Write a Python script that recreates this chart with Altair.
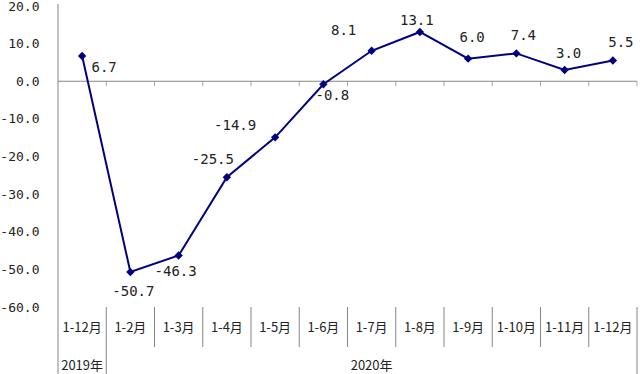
import altair as alt
import pandas as pd

categories = ["1-12月", "1-2月", "1-3月", "1-4月", "1-5月", "1-6月",
              "1-7月", "1-8月", "1-9月", "1-10月", "1-11月", "1-12月"]
values = [6.7, -50.7, -46.3, -25.5, -14.9, -0.8, 8.1, 13.1, 6.0, 7.4, 3.0, 5.5]
years = ["2019年", "2020年"]
year_first_index = [0, 1]
year_last_index = [0, 11]
y_ticks = [-60, -50, -40, -30, -20, -10, 0, 10, 20]

# label placement relative to each point (pixels)
LABEL_OFFSETS = [(22, 12), (3, 20), (-3, 17), (-14, -17), (-40, -11), (9, 12),
                 (-28, -20), (-3, -11), (4, -21), (7, -17), (4, -16), (8, -18)]

W, H = 579, 301
TOP = 6
NAVY = "#000080"
GRID = "#868686"
TXT = "#222222"
NUMFONT = "DejaVu Sans Mono"
CJK = "Noto Sans CJK SC"

n = len(categories)
df = pd.DataFrame({
    "idx": list(range(n)),
    "pos": [i + 0.5 for i in range(n)],
    "value": values,
    "cat": categories,
    "label": [f"{v:.1f}" for v in values],
})

xs = alt.Scale(domain=[0, n], nice=False, zero=False)
ys = alt.Scale(domain=[-60, 20], nice=False, zero=False)

y_axis = alt.Axis(
    values=y_ticks, ticks=False, domain=False, grid=False, title=None,
    labelPadding=19, labelFont=NUMFONT, labelFontSize=13, labelColor=TXT,
    labelExpr="(datum.value < 0 ? '-' : '') + format(abs(datum.value), '.1f')")


def Y(field):
    return alt.Y(field, scale=ys, axis=y_axis, title=None)


def X(field):
    return alt.X(field, scale=xs, axis=None)


base = alt.Chart(df)

zero = alt.Chart(pd.DataFrame({"value": [0]})).mark_rule(color=GRID, strokeWidth=1).encode(
    y=Y("value:Q"))

bounds = pd.DataFrame({"b": list(range(0, n + 1)), "value": [0] * (n + 1)})
# small ticks on the zero line
zticks = alt.Chart(bounds).transform_filter("datum.b >= 1").mark_tick(
    orient="vertical", size=5, thickness=1, yOffset=2.5, color=GRID).encode(
    x=X("b:Q"), y=Y("value:Q"))

bottom = 374 - TOP
# separators in the category table
short_sep = alt.Chart(bounds).transform_filter("datum.b >= 2 && datum.b <= %d" % (n - 1)).mark_rule(
    color=GRID, strokeWidth=1).encode(
    x=X("b:Q"), y=alt.value(H), y2=alt.value(H + 40))
long_sep = alt.Chart(bounds).transform_filter("datum.b == 1 || datum.b == %d" % n).mark_rule(
    color=GRID, strokeWidth=1).encode(
    x=X("b:Q"), y=alt.value(H), y2=alt.value(bottom))
left_axis = alt.Chart(bounds).transform_filter("datum.b == 0").mark_rule(
    color=GRID, strokeWidth=1).encode(
    x=X("b:Q"), y=alt.value(-2), y2=alt.value(bottom))

line = base.mark_line(color=NAVY, strokeWidth=2).encode(x=X("pos:Q"), y=Y("value:Q"))
pts = base.mark_point(shape="diamond", filled=True, size=70, color=NAVY, opacity=1).encode(
    x=X("pos:Q"), y=Y("value:Q"))

label_layers = []
for i, (dx, dy) in enumerate(LABEL_OFFSETS):
    label_layers.append(
        base.transform_filter(f"datum.idx == {i}").mark_text(
            font=NUMFONT, fontSize=14, color=TXT, dx=dx, dy=dy,
            align="center", baseline="middle").encode(
            x=X("pos:Q"), y=Y("value:Q"), text="label:N"))

cat_text = base.mark_text(font=CJK, fontSize=13, color=TXT, baseline="middle").encode(
    x=X("pos:Q"), y=alt.value(H + 21), text="cat:N")

ydf = pd.DataFrame({
    "year": years,
    "pos": [(a + b + 1) / 2 for a, b in zip(year_first_index, year_last_index)],
})
year_text = alt.Chart(ydf).mark_text(font=CJK, fontSize=13, color=TXT, baseline="middle").encode(
    x=X("pos:Q"), y=alt.value(H + 59), text="year:N")

chart = alt.layer(
    zero, zticks, short_sep, long_sep, left_axis, line, pts, *label_layers, cat_text, year_text
).properties(
    width=W, height=H,
    autosize=alt.AutoSizeParams(type="none"),
    padding={"left": 58, "top": TOP, "right": 3, "bottom": 374 - TOP - H},
    background="white",
).configure_view(stroke=None)

chart.save("out.html", embed_options={"renderer": "svg", "actions": False})
